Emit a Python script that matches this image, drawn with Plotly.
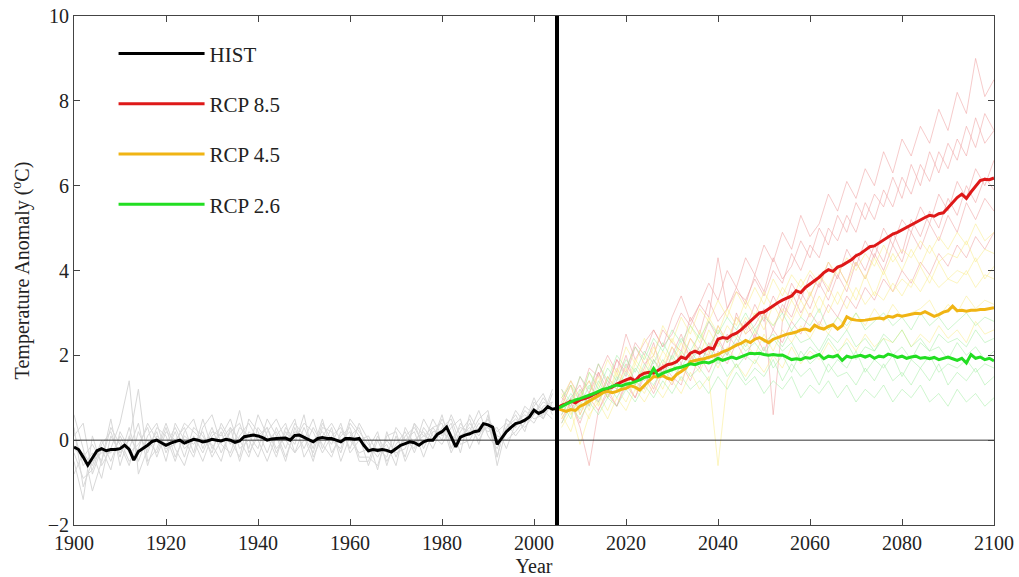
import plotly.graph_objects as go

# ---------------- data ----------------
HIST_END = 2005

hist_years = list(range(1900, 2006))
hist_mean = [
    -0.16, -0.22, -0.40, -0.59, -0.42, -0.25, -0.20, -0.25, -0.22, -0.22,
    -0.20, -0.12, -0.22, -0.47, -0.27, -0.20, -0.12, -0.03, 0.00, -0.06,
    -0.12, -0.07, -0.04, 0.00, -0.07, -0.02, 0.02, 0.00, -0.04, -0.02,
    0.02, 0.00, -0.02, 0.02, 0.00, -0.05, -0.02, 0.08, 0.10, 0.12,
    0.10, 0.06, 0.00, 0.03, 0.04, 0.04, 0.05, 0.00, 0.11, 0.12,
    0.06, 0.00, -0.04, 0.04, 0.06, 0.04, 0.04, 0.00, -0.04, 0.04,
    0.04, 0.02, 0.04, -0.12, -0.25, -0.22, -0.24, -0.22, -0.24, -0.28,
    -0.20, -0.12, -0.08, -0.04, -0.06, -0.12, -0.04, 0.00, 0.00, 0.14,
    0.20, 0.31, 0.08, -0.16, 0.07, 0.12, 0.15, 0.20, 0.22, 0.39,
    0.36, 0.31, -0.10, 0.05, 0.20, 0.30, 0.39, 0.42, 0.47, 0.55,
    0.71, 0.63, 0.68, 0.79, 0.73, 0.75,
]

# individual historical model runs (every second year, 1900-2004)
hist_member_years = list(range(1900, 2005, 2))
hist_members = [
    [-0.3, -0.9, -0.7, -0.1, 0.2, -0.4, 0.3, -0.5, 0.1, 0.4,
     -0.3, 0.2, -0.4, 0.3, 0.1, -0.3, 0.4, 0.0, -0.4, 0.5,
     0.2, -0.3, 0.3, -0.2, 0.4, 0.1, -0.5, 0.3, 0.2, -0.3,
     0.4, 0.1, -0.6, 0.0, -0.5, -0.1, 0.2, -0.3, 0.3, 0.0,
     0.6, -0.2, 0.4, 0.1, 0.5, 0.7, -0.4, 0.5, 0.3, 0.8,
     0.6, 1.0, 0.7],
    [0.6, -0.2, -1.2, -0.5, 0.3, -0.1, -0.6, 0.2, -0.3, 0.3,
     0.1, -0.5, 0.2, 0.5, -0.2, 0.3, -0.3, 0.2, 0.4, -0.2,
     0.6, 0.1, -0.4, 0.3, 0.0, 0.4, 0.2, -0.3, 0.1, 0.3,
     -0.2, 0.4, 0.0, -0.7, 0.2, -0.4, 0.1, 0.3, -0.1, 0.5,
     0.1, 0.4, -0.3, 0.6, 0.2, 0.3, 0.0, 0.2, 0.7, 0.4,
     1.0, 0.5, 1.1],
    [-0.5, -1.4, 0.1, -0.6, -0.2, 0.4, 1.4, -0.8, -0.2, 0.2,
     -0.5, 0.4, 0.0, -0.4, 0.3, 0.6, -0.1, -0.3, 0.3, 0.1,
     -0.2, 0.5, 0.1, -0.5, 0.3, -0.2, 0.3, -0.1, -0.4, 0.2,
     0.0, -0.3, -0.2, 0.2, -0.6, 0.1, -0.4, 0.4, -0.2, 0.3,
     0.4, -0.3, 0.2, 0.5, -0.1, 0.6, -0.6, 0.3, 0.6, 0.2,
     0.9, 0.7, 0.5],
    [0.2, -0.6, -0.3, -0.9, 0.1, -0.3, 0.0, 1.2, -0.5, -0.2,
     0.4, -0.2, -0.6, 0.1, -0.3, 0.2, 0.1, 0.5, -0.2, 0.0,
     -0.4, 0.2, 0.5, 0.0, -0.3, 0.3, -0.2, 0.5, -0.3, 0.1,
     0.3, -0.4, -0.4, -0.6, 0.1, 0.2, -0.5, 0.0, 0.2, -0.2,
     0.3, 0.5, -0.1, 0.0, 0.4, 0.2, 0.3, -0.2, 0.4, 0.6,
     0.4, 0.8, 0.9],
    [-0.8, -0.3, -0.6, 0.0, -0.5, 0.1, -0.3, -0.1, 0.3, -0.4,
     0.2, 0.0, 0.3, -0.3, 0.5, -0.2, 0.2, -0.4, 0.1, 0.4,
     0.0, -0.5, 0.1, 0.4, -0.3, 0.0, 0.5, -0.2, 0.3, -0.5,
     0.1, 0.3, -0.3, -0.2, -0.4, 0.3, 0.0, -0.2, 0.5, 0.1,
     -0.1, 0.3, 0.5, -0.2, 0.3, 0.5, 0.1, 0.0, 0.2, 0.5,
     0.8, 1.1, 0.6],
    [0.1, 0.4, -0.8, -0.2, -0.7, 0.2, -0.2, 0.4, -0.6, 0.1,
     -0.1, 0.3, -0.2, 0.0, -0.5, 0.1, 0.3, -0.1, 0.7, -0.3,
     0.1, 0.3, -0.2, 0.1, 0.5, -0.4, 0.0, 0.2, -0.1, 0.4,
     -0.3, 0.0, 0.1, -0.3, -0.1, -0.6, 0.3, -0.1, 0.1, 0.3,
     0.0, 0.6, 0.1, 0.3, 0.0, 0.4, -0.4, 0.5, 0.3, 0.7,
     0.5, 0.6, 1.2],
    [-0.2, -0.4, -0.1, -0.5, 0.5, -0.6, 0.1, -0.3, 0.0, -0.3,
     0.3, -0.4, 0.1, -0.1, 0.2, -0.4, 0.0, 0.3, -0.5, 0.2,
     0.0, 0.3, -0.3, 0.2, -0.1, 0.6, -0.4, 0.1, 0.4, 0.0,
     0.2, -0.5, -0.5, 0.1, -0.3, -0.2, 0.0, 0.2, -0.4, 0.2,
     0.2, 0.0, 0.3, 0.2, 0.7, 0.1, -0.2, 0.3, 0.5, 0.3,
     0.6, 0.9, 0.8],
    [0.3, -1.1, -0.5, -0.3, -0.3, 0.0, -0.5, -0.2, 0.4, 0.0,
     -0.2, -0.1, 0.4, 0.2, 0.0, -0.1, -0.5, 0.3, 0.0, -0.4,
     0.3, 0.0, 0.2, -0.4, 0.2, 0.1, -0.3, 0.4, 0.0, -0.2,
     0.5, 0.2, -0.1, -0.4, 0.0, -0.3, -0.2, 0.4, 0.1, 0.0,
     0.5, 0.1, 0.0, 0.4, 0.1, 0.5, 0.2, 0.4, 0.1, 0.4,
     0.7, 0.5, 0.9],
]

rcp_years = list(range(2005, 2101))
rcp85_mean = [
    0.75, 0.82, 0.86, 0.92, 0.88, 0.95, 0.98, 1.02, 1.08, 1.12,
    1.18, 1.22, 1.25, 1.32, 1.38, 1.42, 1.46, 1.40, 1.52, 1.58,
    1.60, 1.58, 1.65, 1.72, 1.78, 1.80, 1.85, 1.96, 1.92, 2.05,
    2.10, 2.05, 2.12, 2.18, 2.15, 2.38, 2.42, 2.40, 2.48, 2.52,
    2.60, 2.70, 2.80, 2.88, 3.00, 3.02, 3.10, 3.18, 3.24, 3.30,
    3.36, 3.40, 3.52, 3.48, 3.60, 3.68, 3.77, 3.84, 3.95, 4.02,
    3.98, 4.08, 4.12, 4.18, 4.25, 4.35, 4.40, 4.48, 4.56, 4.58,
    4.65, 4.70, 4.78, 4.86, 4.90, 4.96, 5.02, 5.08, 5.15, 5.20,
    5.25, 5.30, 5.28, 5.34, 5.36, 5.48, 5.60, 5.72, 5.80, 5.70,
    5.85, 5.98, 6.12, 6.15, 6.14, 6.18,
]
rcp45_mean = [
    0.75, 0.71, 0.68, 0.72, 0.70, 0.80, 0.85, 0.92, 0.98, 1.05,
    1.12, 1.15, 1.12, 1.15, 1.20, 1.22, 1.28, 1.25, 1.18, 1.30,
    1.40, 1.50, 1.49, 1.52, 1.46, 1.43, 1.55, 1.62, 1.70, 1.85,
    1.88, 1.90, 1.92, 1.95, 1.98, 2.02, 2.08, 2.12, 2.18, 2.24,
    2.28, 2.35, 2.30, 2.38, 2.42, 2.35, 2.30, 2.38, 2.42, 2.46,
    2.50, 2.52, 2.55, 2.60, 2.62, 2.58, 2.71, 2.65, 2.62, 2.68,
    2.72, 2.62, 2.70, 2.91, 2.85, 2.83, 2.82, 2.83, 2.85, 2.86,
    2.88, 2.86, 2.92, 2.90, 2.95, 2.92, 2.95, 2.97, 2.99, 2.98,
    3.03, 2.98, 2.92, 2.96, 3.02, 3.05, 3.16, 3.05, 3.06, 3.04,
    3.06, 3.06, 3.08, 3.08, 3.10, 3.12,
]
rcp26_mean = [
    0.75, 0.79, 0.85, 0.90, 0.95, 0.98, 1.02, 1.05, 1.10, 1.15,
    1.20, 1.22, 1.27, 1.30, 1.28, 1.32, 1.34, 1.38, 1.42, 1.48,
    1.50, 1.69, 1.52, 1.58, 1.62, 1.65, 1.70, 1.72, 1.76, 1.80,
    1.78, 1.82, 1.84, 1.82, 1.86, 1.93, 1.88, 1.92, 1.96, 1.92,
    1.96, 2.00, 2.05, 2.04, 2.05, 2.02, 2.00, 2.02, 2.00, 2.01,
    1.95, 1.90, 1.92, 1.90, 1.95, 1.93, 1.98, 2.02, 1.92, 1.98,
    1.96, 2.00, 1.88, 1.98, 1.95, 1.98, 2.00, 1.96, 2.00, 1.93,
    1.98, 1.96, 2.03, 2.00, 1.95, 1.98, 1.93, 1.96, 1.98, 1.93,
    1.95, 1.92, 1.95, 1.90, 1.93, 1.96, 1.92, 1.88, 1.93, 1.82,
    2.02, 1.93, 1.96, 1.90, 1.93, 1.87,
]

# individual scenario model runs (every second year, 2006-2100)
rcp_member_years = list(range(2006, 2101, 2))
rcp85_members = [
    [0.9, 1.4, 1.0, 1.7, 1.5, 2.0, 1.6, 2.5, 1.9, 2.3,
     2.6, 2.2, 2.9, 3.4, 2.8, 3.2, 3.7, 3.3, 4.0, 3.6,
     4.3, 3.9, 4.6, 4.2, 4.9, 4.5, 5.3, 4.8, 5.1, 5.8,
     5.4, 6.1, 5.7, 6.4, 6.0, 6.8, 6.3, 7.1, 6.7, 7.4,
     7.0, 7.8, 7.3, 8.2, 7.7, 9.0, 8.1, 8.5],
    [0.6, 1.0, 1.3, 0.8, 1.6, 1.2, 1.9, 1.5, 2.2, 1.8,
     2.0, 2.6, 2.3, 2.1, 2.9, 2.5, 3.3, 2.8, 3.1, 3.6,
     3.2, 3.9, 3.5, 4.3, 3.8, 4.1, 4.7, 4.3, 5.0, 4.6,
     5.3, 4.9, 5.6, 5.2, 5.8, 5.5, 6.2, 5.7, 6.5, 6.0,
     6.8, 6.3, 7.0, 6.6, 7.4, 6.9, 7.7, 7.3],
    [1.2, 0.7, 1.1, 1.4, 0.9, 1.5, 1.2, 1.8, 1.4, 1.2,
     1.9, 1.6, 2.2, 1.8, 2.4, 2.1, 2.0, 2.7, 2.3, 2.9,
     2.6, 3.2, 2.8, 3.4, 3.0, 3.7, 3.3, 3.9, 3.6, 4.2,
     3.8, 4.5, 4.1, 4.7, 4.3, 5.0, 4.6, 5.2, 4.9, 5.5,
     5.1, 5.8, 5.4, 6.1, 5.7, 6.4, 6.0, 6.6],
    [0.5, 0.9, 0.4, 1.0, 0.7, 1.2, 0.8, 1.3, 1.0, 1.5,
     1.1, 1.6, 1.3, 1.8, 1.4, 2.0, 1.6, 2.1, 1.8, 2.3,
     1.9, 2.5, 2.1, 2.6, 2.3, 2.8, 2.5, 3.0, 2.7, 3.2,
     2.9, 3.4, 3.1, 3.6, 3.3, 3.8, 3.5, 4.0, 3.7, 4.2,
     3.9, 4.4, 4.1, 4.6, 4.3, 4.8, 4.5, 4.9],
    [0.8, 1.3, 0.6, 1.1, 1.6, 1.0, 1.4, 2.0, 1.3, 1.7,
     2.3, 1.5, 2.0, 2.5, 1.9, 2.2, 2.8, 2.4, 2.0, 3.0,
     2.5, 2.7, 3.1, 0.6, 2.8, 3.5, 3.0, 3.4, 3.9, 3.5,
     4.1, 3.7, 4.4, 4.0, 4.6, 4.2, 4.9, 4.4, 5.2, 4.8,
     5.4, 5.0, 5.7, 5.3, 6.0, 5.6, 6.2, 5.9],
    [1.0, 0.8, 1.5, 1.1, 1.8, 1.3, 1.9, 1.6, 2.3, 2.0,
     2.6, 2.2, 2.5, 3.0, 2.7, 3.2, 2.9, 4.3, 3.1, 3.5,
     3.3, 3.8, 3.4, 4.0, 3.7, 4.4, 4.0, 4.6, 4.3, 5.0,
     4.7, 5.3, 4.9, 5.6, 5.2, 5.9, 5.5, 6.2, 5.8, 6.5,
     6.1, 6.8, 6.4, 7.1, 6.7, 7.6, 7.0, 7.3],
    [0.4, 0.9, 0.3, -0.6, 0.7, 1.1, 0.8, 1.4, 1.0, 1.6,
     1.2, 1.8, 1.5, 1.3, 2.0, 1.7, 2.3, 1.9, 2.5, 2.2,
     2.8, 2.4, 3.0, 2.6, 3.2, 2.9, 3.5, 3.1, 3.7, 3.3,
     3.9, 3.5, 4.2, 3.8, 4.4, 4.0, 4.6, 4.2, 4.9, 4.5,
     5.1, 4.7, 5.3, 4.9, 5.6, 5.2, 5.7, 5.4],
]
rcp45_members = [
    [1.0, 1.4, 0.9, 1.6, 1.3, 1.9, 1.5, 2.2, 1.8, 2.4,
     2.0, 2.7, 2.3, 2.9, 2.5, 3.1, 2.8, 3.3, 2.9, 3.5,
     3.1, 3.6, 3.2, 3.8, 3.4, 3.9, 3.6, 4.0, 3.7, 4.2,
     3.9, 4.3, 4.0, 4.4, 4.1, 4.6, 4.2, 4.5, 4.3, 4.7,
     4.4, 4.8, 4.5, 4.9, 4.6, 5.1, 4.7, 4.9],
    [0.5, 0.9, 1.2, 0.7, 1.3, 1.0, 1.6, 1.2, 1.8, 1.5,
     2.0, 1.7, 2.2, 1.9, 2.4, 2.0, 2.6, 2.2, 2.7, 2.4,
     2.9, 2.5, 3.0, 2.7, 3.1, 2.8, 3.3, 2.9, 3.4, 3.0,
     3.5, 3.1, 3.6, 3.2, 3.5, 3.3, 3.7, 3.4, 3.8, 3.5,
     3.9, 3.6, 3.8, 3.7, 4.0, 3.6, 3.9, 3.8],
    [0.3, 0.7, -0.1, 0.6, 0.9, 0.5, 1.0, 0.7, 1.2, 0.9,
     1.3, 1.0, 1.4, 1.1, 1.6, 1.2, 1.5, -0.6, 1.4, 1.8,
     1.5, 1.9, 1.6, 2.0, 1.7, 2.2, 1.8, 2.1, 1.9, 2.3,
     2.0, 2.4, 2.1, 2.5, 2.2, 2.4, 2.3, 2.6, 2.2, 2.5,
     2.3, 2.7, 2.4, 2.6, 2.3, 2.8, 2.5, 2.6],
    [0.8, 1.3, 0.6, 1.1, 1.5, 1.0, 1.7, 1.3, 1.9, 1.6,
     2.2, 1.8, 2.4, 2.0, 2.7, 2.3, 2.9, 2.5, 3.1, 2.7,
     3.3, 2.9, 3.5, 3.1, 3.6, 3.3, 3.8, 3.4, 3.9, 3.6,
     4.1, 3.7, 4.2, 3.8, 4.3, 3.9, 4.4, 4.0, 4.5, 4.1,
     4.6, 4.2, 4.4, 4.3, 4.7, 4.2, 4.5, 4.4],
    [0.6, 0.2, 0.9, 0.5, 1.1, 0.7, 1.2, 0.9, 1.4, 1.1,
     1.6, 1.2, 1.8, 1.4, 1.9, 1.6, 2.1, 1.7, 2.2, 1.9,
     2.3, 2.0, 2.5, 2.1, 2.6, 2.3, 2.7, 2.4, 2.8, 2.5,
     2.9, 2.6, 3.0, 2.7, 3.1, 2.8, 3.2, 2.9, 3.0, 3.1,
     3.3, 2.9, 3.2, 3.0, 3.4, 3.1, 3.3, 3.2],
    [1.1, 0.6, 1.0, 1.4, 0.8, 1.5, 1.2, 1.7, 1.3, 2.0,
     1.6, 2.1, 1.8, 2.3, 1.9, 2.6, 2.1, 2.7, 2.3, 2.9,
     2.5, 3.0, 2.6, 3.2, 2.8, 3.3, 2.9, 3.5, 3.0, 3.6,
     3.2, 3.7, 3.3, 3.9, 3.4, 4.0, 3.5, 3.8, 3.6, 4.1,
     3.7, 4.2, 3.8, 4.0, 3.9, 4.3, 3.8, 4.1],
]
rcp26_members = [
    [1.2, 0.9, 1.5, 1.2, 1.8, 1.4, 2.0, 1.7, 2.2, 1.9,
     2.4, 2.1, 2.6, 2.3, 2.7, 2.4, 2.8, 2.5, 2.9, 2.6,
     3.0, 2.6, 2.9, 2.7, 3.0, 2.6, 2.9, 2.7, 3.1, 2.6,
     2.9, 2.7, 3.0, 2.6, 2.8, 3.0, 2.7, 2.9, 2.6, 3.0,
     2.7, 2.9, 2.6, 2.8, 3.0, 2.7, 2.9, 2.8],
    [0.7, 1.1, 0.8, 1.3, 1.0, 1.4, 1.2, 1.6, 1.3, 1.8,
     1.5, 1.9, 1.6, 2.1, 1.8, 2.2, 1.9, 2.3, 2.0, 2.4,
     2.1, 2.3, 2.0, 2.4, 2.1, 2.3, 1.9, 2.2, 2.0, 2.4,
     2.1, 2.3, 1.9, 2.2, 2.1, 2.4, 2.0, 2.2, 1.9, 2.3,
     2.1, 2.2, 1.9, 2.3, 2.0, 2.2, 1.9, 2.1],
    [0.4, 0.8, 0.5, 0.9, 0.6, 1.0, 0.8, 1.2, 0.9, 1.3,
     1.0, 1.4, 1.1, 1.5, 1.2, 1.4, 1.1, 1.5, 1.2, 1.6,
     1.3, 1.5, 1.1, 1.4, 1.2, 1.5, 1.0, 1.3, 1.1, 1.4,
     1.0, 1.3, 0.9, 1.2, 1.0, 1.3, 0.9, 1.2, 1.0, 1.3,
     0.9, 1.1, 0.8, 1.2, 0.9, 1.1, 0.8, 1.0],
    [1.0, 1.3, 0.9, 1.6, 1.2, 1.7, 1.4, 1.9, 1.6, 2.1,
     1.8, 2.3, 1.9, 2.4, 2.1, 2.5, 2.2, 2.6, 2.3, 2.5,
     2.2, 2.6, 2.3, 2.5, 2.2, 2.6, 2.3, 2.4, 2.1, 2.5,
     2.3, 2.6, 2.2, 2.4, 2.1, 2.5, 2.3, 2.6, 2.2, 2.4,
     2.1, 2.5, 2.3, 2.4, 2.2, 2.6, 2.3, 2.4],
    [0.6, 1.0, 0.7, 1.1, 0.9, 1.3, 1.0, 1.4, 1.2, 1.5,
     1.3, 1.7, 1.4, 1.8, 1.5, 1.7, 1.4, 1.9, 1.5, 1.8,
     1.4, 1.7, 1.5, 1.9, 1.4, 1.8, 1.5, 1.7, 1.3, 1.8,
     1.5, 1.6, 1.3, 1.7, 1.4, 1.8, 1.4, 1.6, 1.3, 1.7,
     1.4, 1.8, 1.3, 1.6, 1.4, 1.7, 1.3, 1.5],
    [0.9, 0.5, 1.2, 0.8, 1.4, 1.0, 1.5, 1.2, 1.7, 1.4,
     1.9, 1.5, 2.0, 1.7, 2.1, 1.8, 2.2, 1.8, 2.1, 1.7,
     2.0, 1.8, 2.2, 1.7, 2.0, 1.6, 2.1, 1.8, 2.0, 1.6,
     1.9, 1.7, 2.1, 1.6, 1.9, 1.7, 2.0, 1.5, 1.9, 1.7,
     2.0, 1.6, 1.8, 1.7, 1.9, 1.6, 1.8, 1.7],
]

x_range = [1900, 2100]
y_range = [-2, 10]
x_ticks = [1900, 1920, 1940, 1960, 1980, 2000, 2020, 2040, 2060, 2080, 2100]
y_ticks = [-2, 0, 2, 4, 6, 8, 10]

# ---------------- styling ----------------
FONT = "Liberation Serif, Times New Roman, serif"
member_colors = {
    "hist": "rgb(216,216,216)",
    "rcp85": "rgba(238,160,160,0.55)",
    "rcp45": "rgba(250,235,130,0.5)",
    "rcp26": "rgba(160,238,160,0.5)",
}
mean_colors = {
    "HIST": "black",
    "RCP 8.5": "rgb(222,24,24)",
    "RCP 4.5": "rgb(240,180,20)",
    "RCP 2.6": "rgb(34,222,34)",
}

fig = go.Figure()

# ensemble spaghetti
for ys in hist_members:
    fig.add_trace(go.Scatter(x=hist_member_years, y=ys, mode="lines",
                             line=dict(color=member_colors["hist"], width=1),
                             showlegend=False, hoverinfo="skip"))
for key, members in (("rcp85", rcp85_members), ("rcp45", rcp45_members),
                     ("rcp26", rcp26_members)):
    for ys in members:
        fig.add_trace(go.Scatter(x=rcp_member_years, y=ys, mode="lines",
                                 line=dict(color=member_colors[key], width=1),
                                 showlegend=False, hoverinfo="skip"))

# zero reference line, drawn over the spaghetti but under the means
fig.add_trace(go.Scatter(x=x_range, y=[0, 0], mode="lines",
                         line=dict(color="#333", width=1),
                         showlegend=False, hoverinfo="skip"))

# ensemble means
for name, xs, ys in (("HIST", hist_years, hist_mean),
                     ("RCP 8.5", rcp_years, rcp85_mean),
                     ("RCP 4.5", rcp_years, rcp45_mean),
                     ("RCP 2.6", rcp_years, rcp26_mean)):
    fig.add_trace(go.Scatter(x=xs, y=ys, mode="lines", name=name,
                             legendgroup=name,
                             line=dict(color=mean_colors[name], width=3)))

# boundary between historical and scenario periods
fig.add_shape(type="line", xref="x", yref="paper", x0=HIST_END, x1=HIST_END,
              y0=0, y1=1, line=dict(color="black", width=4), layer="above")

axis_common = dict(
    showline=True, linecolor="#444", linewidth=1, mirror="ticks",
    ticks="inside", ticklen=6, tickcolor="#444", showgrid=False,
    zeroline=False, automargin=False,
    tickfont=dict(family=FONT, size=20, color="#222"),
)

fig.update_layout(
    width=1019, height=577,
    margin=dict(l=74, r=25, t=16, b=52),
    paper_bgcolor="white", plot_bgcolor="white",
    font=dict(family=FONT, color="#222"),
    xaxis=dict(range=x_range, tickvals=x_ticks,
               title=dict(text="Year", font=dict(family=FONT, size=20), standoff=6),
               **axis_common),
    yaxis=dict(range=y_range, tickvals=y_ticks,
               title=dict(text="Temperature Anomaly (<sup>o</sup>C)",
                          font=dict(family=FONT, size=20), standoff=12),
               **axis_common),
    legend=dict(x=0.043, y=0.966, xanchor="left", yanchor="top",
                bgcolor="rgba(0,0,0,0)", itemwidth=86, tracegroupgap=20,
                font=dict(family=FONT, size=21, color="#222")),
    showlegend=True,
)

fig.write_html("out.html")
